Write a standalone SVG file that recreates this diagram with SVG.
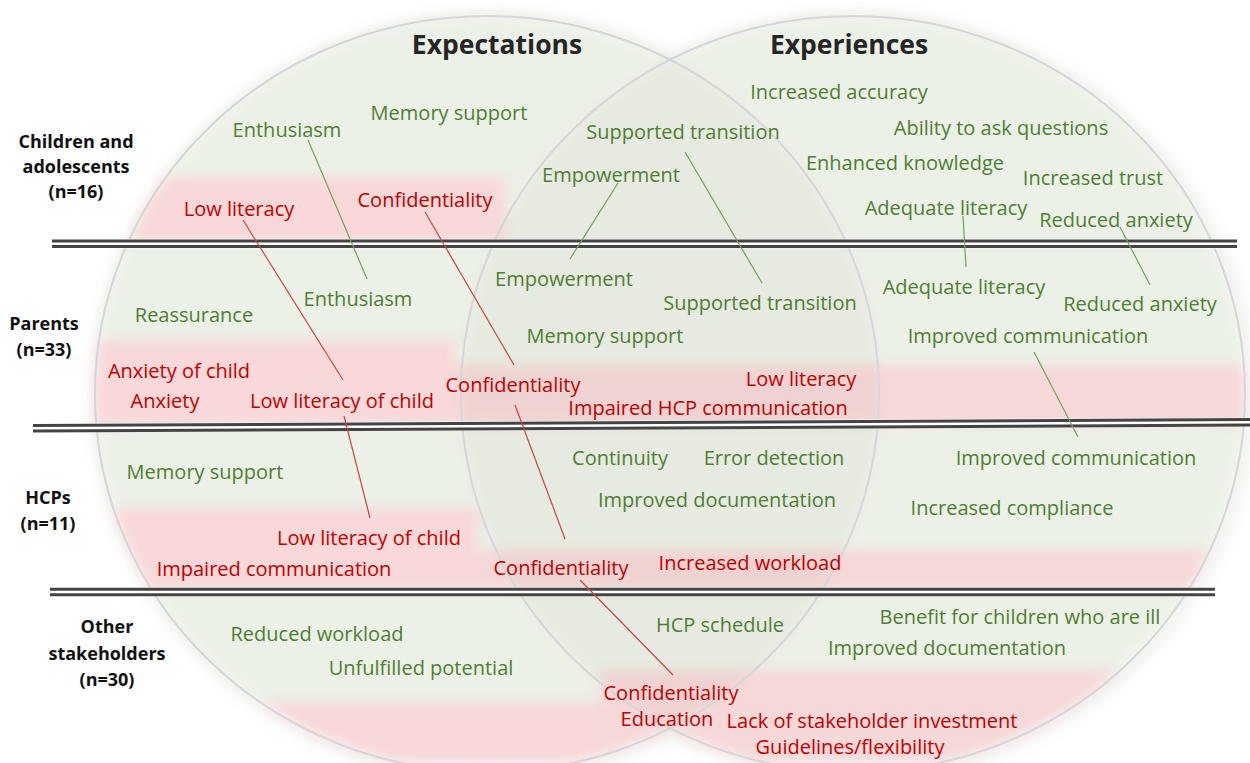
<svg xmlns="http://www.w3.org/2000/svg" width="1250" height="763" viewBox="0 0 1250 763">
  <defs>
    <style>
      .g { font-family: "Open Sans", "Liberation Sans", sans-serif; font-size: 20px; fill: #4f7f30; text-anchor: middle; }
      .r { font-family: "Open Sans", "Liberation Sans", sans-serif; font-size: 20px; fill: #c00000; text-anchor: middle; }
      .row { font-family: "Open Sans", "Liberation Sans", sans-serif; font-size: 18px; font-weight: bold; fill: #111; text-anchor: middle; }
      .title { font-family: "Open Sans", "Liberation Sans", sans-serif; font-size: 26.5px; font-weight: bold; fill: #262626; text-anchor: middle; }
      .lg { stroke: #76a05c; stroke-width: 1.2; fill: none; }
      .lr { stroke: #c94545; stroke-width: 1.2; fill: none; }
      .sepd { stroke: #444444; stroke-width: 3; fill: none; }
      .sepw { stroke: #ffffff; stroke-width: 9; fill: none; }
      .ring { fill: none; stroke: #d6d6d6; stroke-width: 2; }
    </style>
    <clipPath id="union">
      <ellipse cx="487" cy="394" rx="392" ry="378"/>
      <ellipse cx="853" cy="394" rx="392" ry="378"/>
    </clipPath>
    <clipPath id="rightC">
      <ellipse cx="853" cy="394" rx="392" ry="378"/>
    </clipPath>
    <filter id="soft" x="-5%" y="-5%" width="110%" height="110%">
      <feGaussianBlur stdDeviation="6"/>
    </filter>
    <filter id="halo" x="-10%" y="-10%" width="120%" height="120%">
      <feGaussianBlur stdDeviation="7"/>
    </filter>
  </defs>

  <rect width="1250" height="763" fill="#ffffff"/>

  <!-- faint outer halo of the two sets -->
  <g filter="url(#halo)" opacity="0.35">
    <ellipse cx="490" cy="396" rx="394" ry="380" fill="none" stroke="#c8c8c8" stroke-width="8"/>
    <ellipse cx="856" cy="396" rx="394" ry="380" fill="none" stroke="#c8c8c8" stroke-width="8"/>
  </g>

  <!-- shaded bands: green = positive, red = negative -->
  <g id="bands" filter="url(#soft)">
    <g clip-path="url(#union)">
      <rect x="0" y="0" width="1250" height="763" fill="#ecf1e7"/>
      <rect x="0" y="177" width="505" height="64" fill="#f8d8d9"/>
      <rect x="0" y="340" width="455" height="85" fill="#f8d8d9"/>
      <rect x="455" y="365" width="795" height="60" fill="#f6d8d9"/>
      <rect x="0" y="508" width="478" height="82" fill="#f8d8d9"/>
      <rect x="478" y="550" width="772" height="40" fill="#f6d8d9"/>
      <rect x="0" y="702" width="600" height="61" fill="#f8d8d9"/>
      <rect x="600" y="670" width="650" height="93" fill="#f6d8d9"/>
      <!-- overlap lens -->
      <ellipse cx="487" cy="394" rx="392" ry="378" fill="#7a7a6a" opacity="0.05" clip-path="url(#rightC)"/>
    </g>
  </g>

  <!-- set outlines -->
  <g id="sets">
    <ellipse class="ring" cx="487" cy="394" rx="392" ry="378"/>
    <ellipse class="ring" cx="853" cy="394" rx="392" ry="378"/>
  </g>

  <!-- row separators -->
  <g id="separators">
    <line class="sepw" x1="52" y1="243.8" x2="1237" y2="243.8"/>
    <line class="sepd" x1="52" y1="241" x2="1237" y2="241"/>
    <line class="sepd" x1="52" y1="246.6" x2="1237" y2="246.6"/>
    <line class="sepw" x1="33" y1="428.2" x2="1250" y2="422.2"/>
    <line class="sepd" x1="33" y1="425.5" x2="1250" y2="419.5"/>
    <line class="sepd" x1="33" y1="431" x2="1250" y2="425"/>
    <line class="sepw" x1="50" y1="592" x2="1215" y2="592"/>
    <line class="sepd" x1="50" y1="589.3" x2="1215" y2="589.3"/>
    <line class="sepd" x1="50" y1="594.7" x2="1215" y2="594.7"/>
  </g>

  <!-- connectors linking shared themes across groups -->
  <g id="connectors">
    <line class="lg" x1="308" y1="140" x2="367" y2="279"/>
    <line class="lg" x1="618" y1="183" x2="570" y2="259"/>
    <line class="lg" x1="685" y1="152" x2="762" y2="283"/>
    <line class="lg" x1="963" y1="216" x2="966" y2="267"/>
    <line class="lg" x1="1120" y1="227" x2="1150" y2="285"/>
    <line class="lg" x1="1034" y1="352" x2="1078" y2="437"/>
    <line class="lr" x1="243" y1="220" x2="343" y2="380"/>
    <line class="lr" x1="425" y1="212" x2="514" y2="365"/>
    <line class="lr" x1="344" y1="416" x2="370" y2="518"/>
    <line class="lr" x1="515" y1="405" x2="565" y2="539"/>
    <line class="lr" x1="580" y1="580" x2="673" y2="675"/>
  </g>

  <!-- set titles -->
  <g id="title-expectations"><text class="title" x="497" y="54">Expectations</text></g>
  <g id="title-experiences"><text class="title" x="849" y="54">Experiences</text></g>

  <!-- row labels -->
  <g id="row-children"><text class="row" x="76" y="148">Children and</text><text class="row" x="76" y="173">adolescents</text><text class="row" x="76" y="198">(n=16)</text></g>
  <g id="row-parents"><text class="row" x="44" y="330">Parents</text><text class="row" x="44" y="356">(n=33)</text></g>
  <g id="row-hcps"><text class="row" x="48" y="504">HCPs</text><text class="row" x="48" y="530">(n=11)</text></g>
  <g id="row-other"><text class="row" x="107" y="633">Other</text><text class="row" x="107" y="660">stakeholders</text><text class="row" x="107" y="686">(n=30)</text></g>

  <!-- children and adolescents -->
  <g id="c-enthusiasm"><text class="g" x="287" y="137">Enthusiasm</text></g>
  <g id="c-memory"><text class="g" x="449" y="120">Memory support</text></g>
  <g id="c-lowlit"><text class="r" x="239" y="216">Low literacy</text></g>
  <g id="c-conf"><text class="r" x="425" y="207">Confidentiality</text></g>
  <g id="c-transition"><text class="g" x="683" y="139">Supported transition</text></g>
  <g id="c-empower"><text class="g" x="611" y="182">Empowerment</text></g>
  <g id="c-accuracy"><text class="g" x="839" y="99">Increased accuracy</text></g>
  <g id="c-ask"><text class="g" x="1001" y="135">Ability to ask questions</text></g>
  <g id="c-knowledge"><text class="g" x="905" y="170">Enhanced knowledge</text></g>
  <g id="c-trust"><text class="g" x="1093" y="185">Increased trust</text></g>
  <g id="c-adequate"><text class="g" x="946" y="215">Adequate literacy</text></g>
  <g id="c-anxiety"><text class="g" x="1116" y="227">Reduced anxiety</text></g>

  <!-- parents -->
  <g id="p-enthusiasm"><text class="g" x="358" y="306">Enthusiasm</text></g>
  <g id="p-reassurance"><text class="g" x="194" y="322">Reassurance</text></g>
  <g id="p-anxchild"><text class="r" x="179" y="378">Anxiety of child</text></g>
  <g id="p-anxiety"><text class="r" x="165" y="408">Anxiety</text></g>
  <g id="p-lowlit"><text class="r" x="342" y="408">Low literacy of child</text></g>
  <g id="p-empower"><text class="g" x="564" y="286">Empowerment</text></g>
  <g id="p-transition"><text class="g" x="760" y="310">Supported transition</text></g>
  <g id="p-memory"><text class="g" x="605" y="343">Memory support</text></g>
  <g id="p-conf"><text class="r" x="513" y="392">Confidentiality</text></g>
  <g id="p-lowlit2"><text class="r" x="801" y="386">Low literacy</text></g>
  <g id="p-hcpcomm"><text class="r" x="708" y="415">Impaired HCP communication</text></g>
  <g id="p-adequate"><text class="g" x="964" y="294">Adequate literacy</text></g>
  <g id="p-anxiety2"><text class="g" x="1140" y="311">Reduced anxiety</text></g>
  <g id="p-comm"><text class="g" x="1028" y="343">Improved communication</text></g>

  <!-- HCPs -->
  <g id="h-memory"><text class="g" x="205" y="479">Memory support</text></g>
  <g id="h-lowlit"><text class="r" x="369" y="545">Low literacy of child</text></g>
  <g id="h-impcomm"><text class="r" x="274" y="576">Impaired communication</text></g>
  <g id="h-continuity"><text class="g" x="620" y="465">Continuity</text></g>
  <g id="h-error"><text class="g" x="774" y="465">Error detection</text></g>
  <g id="h-doc"><text class="g" x="717" y="507">Improved documentation</text></g>
  <g id="h-conf"><text class="r" x="561" y="575">Confidentiality</text></g>
  <g id="h-workload"><text class="r" x="750" y="570">Increased workload</text></g>
  <g id="h-comm"><text class="g" x="1076" y="465">Improved communication</text></g>
  <g id="h-compliance"><text class="g" x="1012" y="515">Increased compliance</text></g>

  <!-- other stakeholders -->
  <g id="o-workload"><text class="g" x="317" y="641">Reduced workload</text></g>
  <g id="o-potential"><text class="g" x="421" y="675">Unfulfilled potential</text></g>
  <g id="o-schedule"><text class="g" x="720" y="632">HCP schedule</text></g>
  <g id="o-conf"><text class="r" x="671" y="700">Confidentiality</text></g>
  <g id="o-education"><text class="r" x="667" y="726">Education</text></g>
  <g id="o-investment"><text class="r" x="872" y="728">Lack of stakeholder investment</text></g>
  <g id="o-guidelines"><text class="r" x="850" y="754">Guidelines/flexibility</text></g>
  <g id="o-benefit"><text class="g" x="1020" y="624">Benefit for children who are ill</text></g>
  <g id="o-doc"><text class="g" x="947" y="655">Improved documentation</text></g>
</svg>
